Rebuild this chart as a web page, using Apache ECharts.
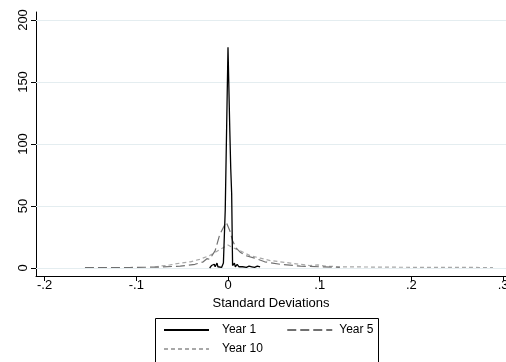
<!DOCTYPE html>
<html>
<head>
<meta charset="utf-8">
<script src="https://cdn.jsdelivr.net/npm/echarts@6/dist/echarts.min.js"></script>
<style>html,body{margin:0;padding:0;background:#fff}#c{width:506px;height:362px}</style>
</head>
<body>
<div id="c"></div>
<script>
// Year 1 (solid black)
var year1X = [-0.020,-0.018,-0.017,-0.015,-0.014,-0.012,-0.011,-0.009,-0.007,-0.005,-0.003,0,0.002,0.003,0.004,0.005,0.007,0.008,0.010,0.012,0.014,0.016,0.018,0.020,0.023,0.026,0.029,0.032,0.035];
var year1Y = [0,2,0.5,3,1,4,1,2.5,0.5,4,47,178,110,80,60,2,4,1,3,1,2.5,1,2,0.5,1.5,1,0.5,1.5,1];
// Year 5 (long dash)
var year5X = [-0.156,-0.107,-0.074,-0.052,-0.036,-0.027,-0.023,-0.020,-0.014,-0.009,-0.002,0.002,0.005,0.009,0.013,0.019,0.029,0.040,0.057,0.079,0.100,0.122];
var year5Y = [0.3,0.4,0.8,1.5,3,5,7.5,7,14,27,37,30,22,16,13,10,8,5,3,1.5,1,0.5];
// Year 10 (short dash)
var year10X = [-0.080,-0.074,-0.063,-0.052,-0.041,-0.031,-0.020,-0.011,-0.004,0,0.005,0.013,0.024,0.035,0.046,0.068,0.089,0.098,0.106,0.122,0.166,0.220,0.289];
var year10Y = [0.8,1.5,2.5,4,5,7,10,14,17,18.5,16.5,14,10,8,6,4,2,2.5,1.5,1,0.7,0.5,0.4];

var xTicks = [-0.2,-0.1,0,0.1,0.2,0.3];
var xTickLabels = ['-.2','-.1','0','.1','.2','.3'];
var yTicks = [0,50,100,150,200];
var yTickLabels = ['0','50','100','150','200'];
var seriesNames = ['Year 1','Year 5','Year 10'];
var xTitle = 'Standard Deviations';

function pairs(xs, ys){ return xs.map(function(x,i){return [x, ys[i]];}); }

var font = 'Liberation Sans, Arial, Helvetica, sans-serif';
var chart = echarts.init(document.getElementById('c'), null, {renderer:'canvas'});
chart.setOption({
  animation:false,
  backgroundColor:'#fff',
  grid:{left:36, right:0, top:12, bottom:86, containLabel:false, outerBoundsMode:'none'},
  xAxis:{
    type:'value', min:-0.2094, max:0.3032,
    name:xTitle, nameLocation:'middle', nameGap:20,
    nameTextStyle:{color:'#000', fontFamily:font, fontSize:13},
    axisLine:{show:true, onZero:false, lineStyle:{color:'#000', width:1}},
    axisTick:{show:true, length:5, customValues:xTicks, lineStyle:{color:'#000'}},
    axisLabel:{show:true, margin:3, color:'#000', fontFamily:font, fontSize:13,
      customValues:xTicks, hideOverlap:false,
      formatter:function(v){ var i = xTicks.findIndex(function(t){return Math.abs(t-v)<1e-9;}); return i>=0?xTickLabels[i]:''; }},
    splitLine:{show:false}
  },
  yAxis:{
    type:'value', min:-6.45, max:206.45,
    axisLine:{show:true, onZero:false, lineStyle:{color:'#000', width:1}},
    axisTick:{show:true, length:5, customValues:yTicks, lineStyle:{color:'#000'}},
    axisLabel:{show:true, rotate:90, margin:6, color:'#000', fontFamily:font, fontSize:13,
      customValues:yTicks,
      formatter:function(v){ var i = yTicks.findIndex(function(t){return Math.abs(t-v)<1e-9;}); return i>=0?yTickLabels[i]:''; }},
    splitLine:{show:false}
  },
  legend:[
    {data:[seriesNames[0], {name:seriesNames[1], textStyle:{padding:[0,0,0,2]}}], left:163, top:324, padding:0, itemWidth:45, itemHeight:14, itemGap:30,
     itemStyle:{opacity:0},
     textStyle:{color:'#000', fontFamily:font, fontSize:12, padding:[0,0,0,8]}},
    {data:[seriesNames[2]], left:163, top:343, padding:0, itemWidth:45, itemHeight:14,
     itemStyle:{opacity:0},
     textStyle:{color:'#000', fontFamily:font, fontSize:12, padding:[0,0,0,8]}}
  ],
  graphic:[{type:'rect', shape:{x:155.5, y:318.5, width:223, height:60}, style:{fill:'none', stroke:'#000', lineWidth:1}, silent:true}],
  series:[
    {name:'grid', type:'line', data:[], z:1, silent:true,
     markLine:{silent:true, symbol:'none', label:{show:false}, animation:false,
       lineStyle:{color:'#e4edf0', type:'solid', width:1},
       data: yTicks.map(function(t){return {yAxis:t};})}},
    {name:seriesNames[2], type:'line', data:pairs(year10X, year10Y), showSymbol:false, symbol:'none', z:3,
     lineStyle:{color:'#a8a8a8', width:1.2, type:[4,3]}, itemStyle:{color:'#a8a8a8'}},
    {name:seriesNames[1], type:'line', data:pairs(year5X, year5Y), showSymbol:false, symbol:'none', z:4,
     lineStyle:{color:'#707070', width:1.2, type:[9,4]}, itemStyle:{color:'#707070'}},
    {name:seriesNames[0], type:'line', data:pairs(year1X, year1Y), showSymbol:false, symbol:'none', z:5,
     lineStyle:{color:'#000', width:1.3}, itemStyle:{color:'#000'}}
  ]
});
</script>
</body>
</html>
